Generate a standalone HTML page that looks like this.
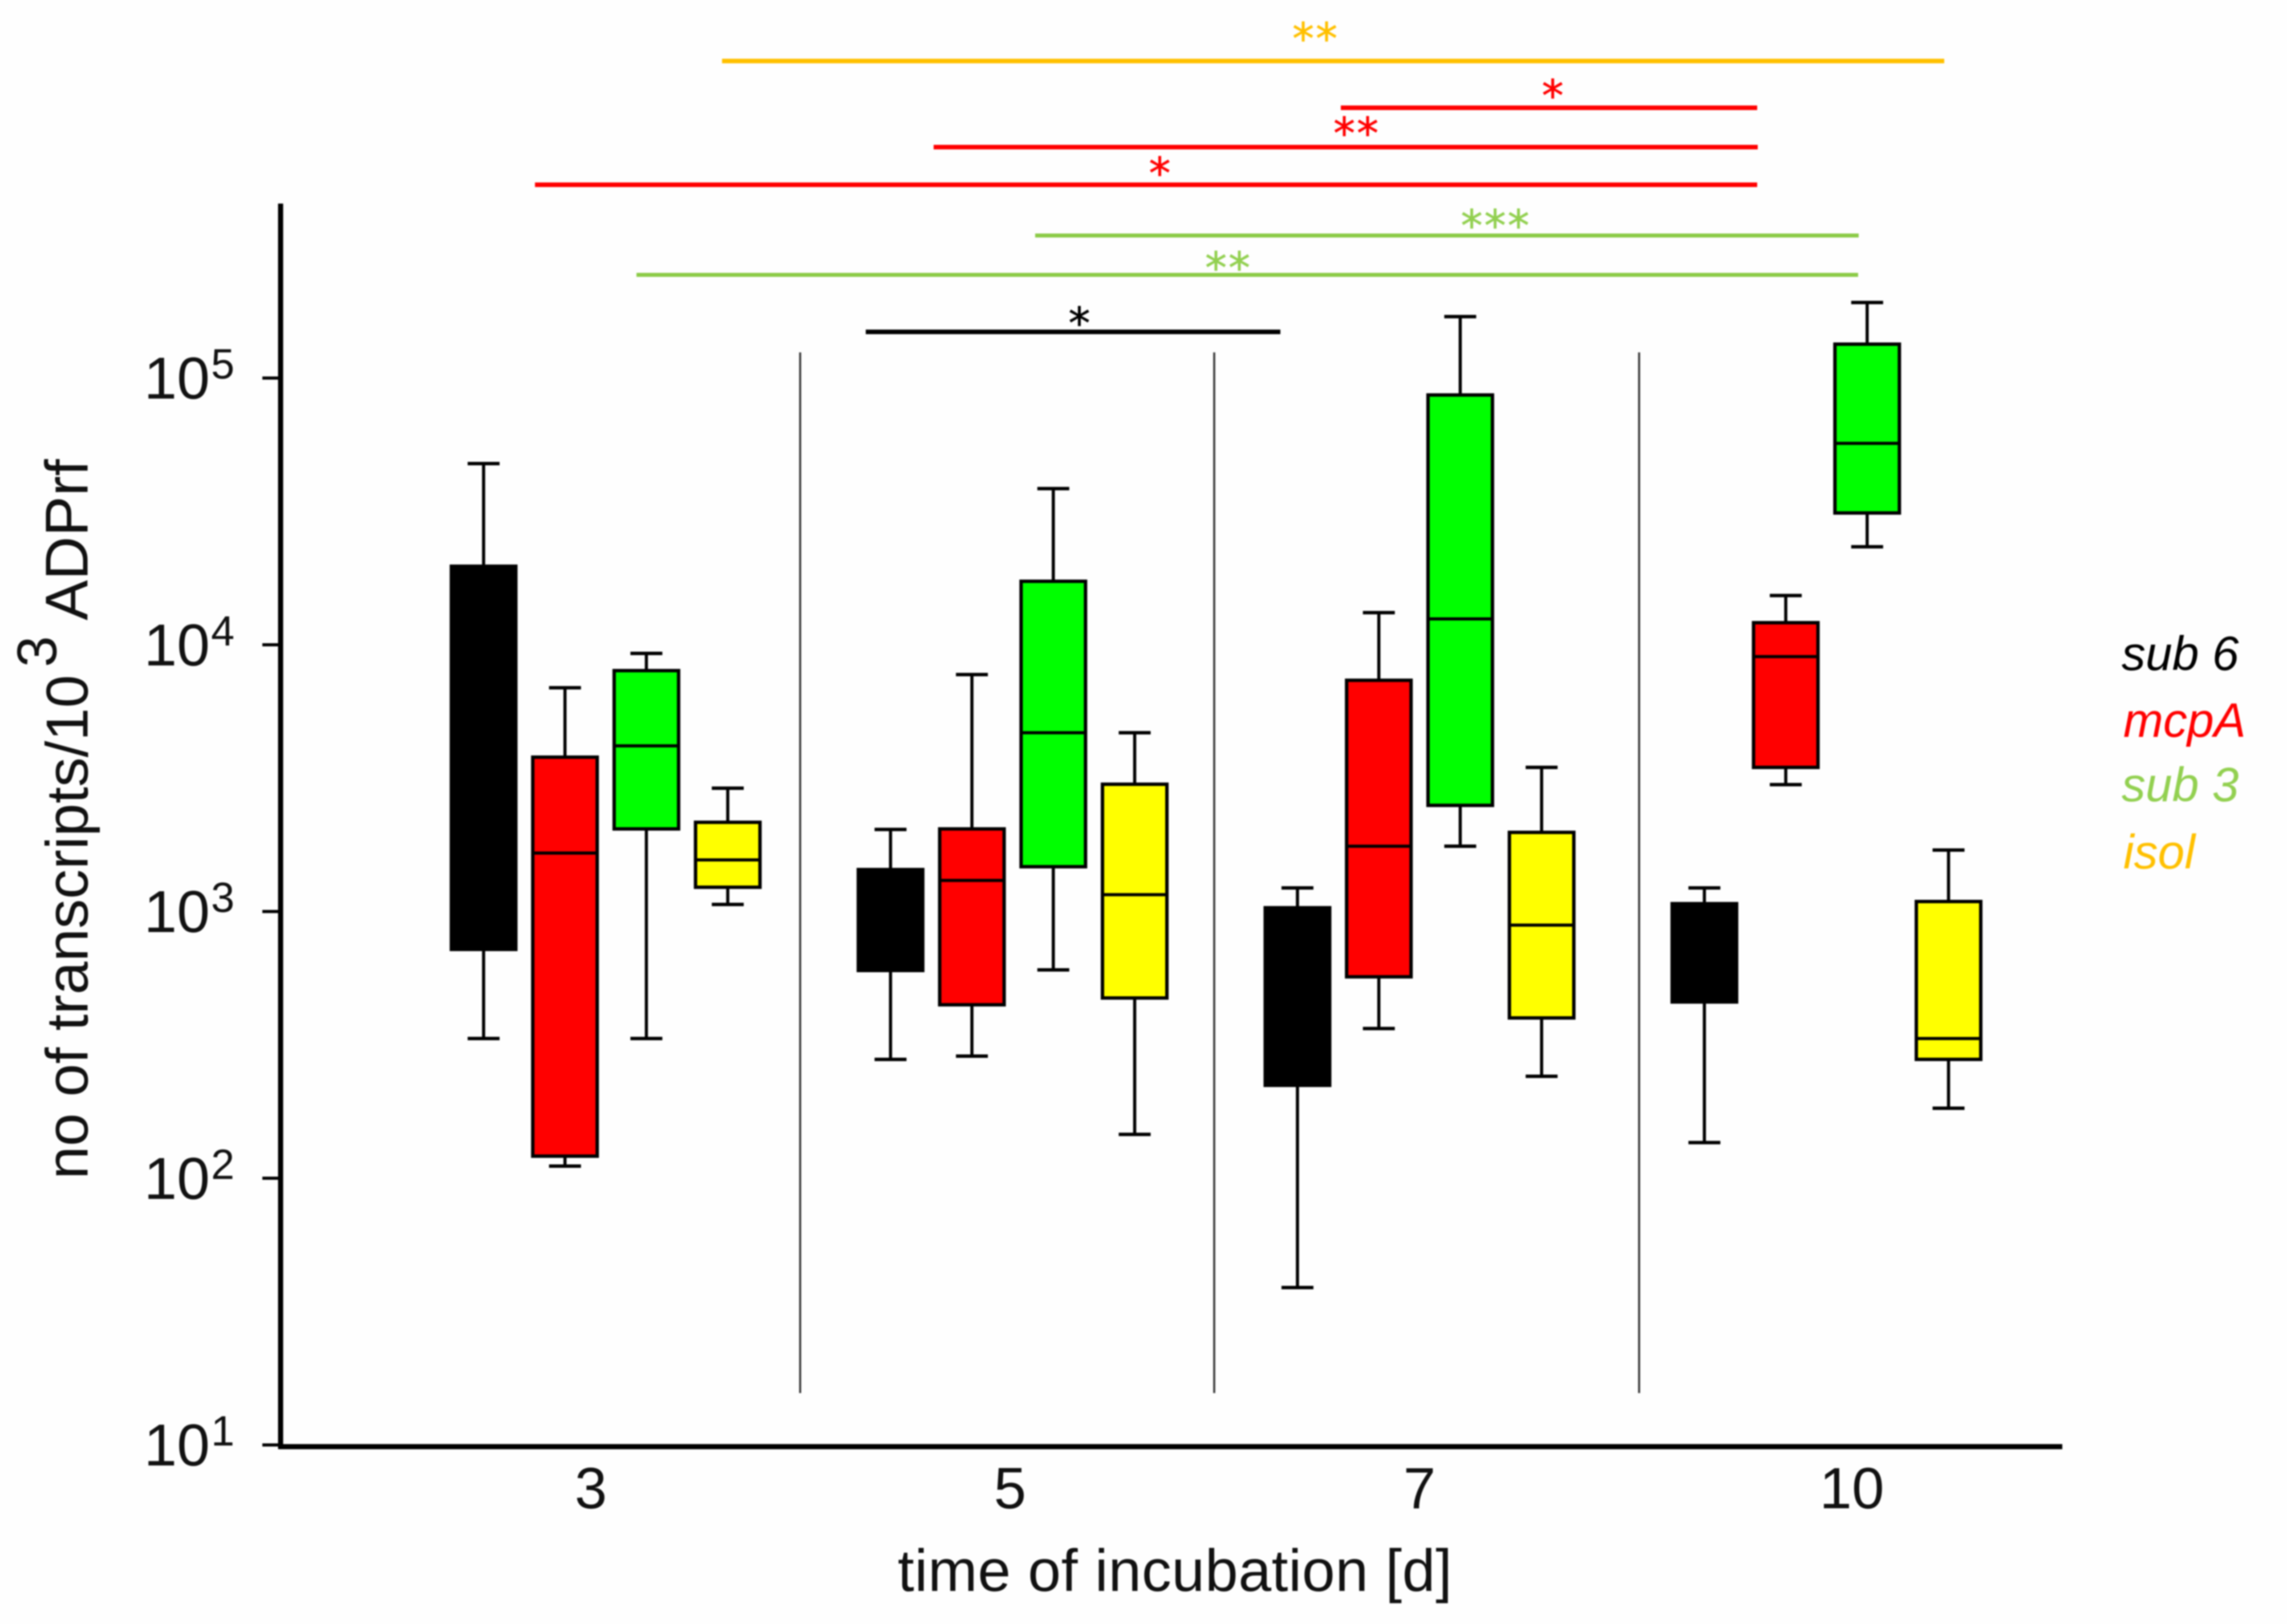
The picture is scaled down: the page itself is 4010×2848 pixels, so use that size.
<!DOCTYPE html>
<html lang="en">
<head>
<meta charset="utf-8">
<title>Transcripts over time of incubation</title>
<style>
html,body{margin:0;padding:0;background:#fff;width:4010px;height:2848px;overflow:hidden}
svg{display:block;font-family:"Liberation Sans",Arial,sans-serif;filter:blur(1.2px)}
.star{font-family:"DejaVu Sans",sans-serif;font-size:76px;letter-spacing:3px;text-anchor:middle;stroke-width:0.8px}
.leg{font-style:italic;font-size:84px}
.tick{font-size:102px;fill:#111}
</style>
</head>
<body>
<svg id="chart" xmlns="http://www.w3.org/2000/svg" width="4010" height="2848" viewBox="0 0 4010 2848">
  <rect width="4010" height="2848" fill="#fefefe"/>

  <g id="sig">
    <line x1="1266" x2="3409" y1="107" y2="107" stroke="#FFC000" stroke-width="8"/>
    <text class="star" x="2307" y="94" fill="#FFC000" stroke="#FFC000">**</text>
    <line x1="2351" x2="3081" y1="189" y2="189" stroke="#FF0000" stroke-width="8"/>
    <text class="star" x="2724" y="194" fill="#FF0000" stroke="#FF0000">*</text>
    <line x1="1637" x2="3082" y1="258" y2="258" stroke="#FF0000" stroke-width="8"/>
    <text class="star" x="2379" y="260" fill="#FF0000" stroke="#FF0000">**</text>
    <line x1="938" x2="3081" y1="324" y2="324" stroke="#FF0000" stroke-width="8"/>
    <text class="star" x="2035" y="330" fill="#FF0000" stroke="#FF0000">*</text>
    <line x1="1815" x2="3259" y1="413" y2="413" stroke="#8CCB48" stroke-width="7"/>
    <text class="star" x="2623" y="422" fill="#92D050" stroke="#92D050">***</text>
    <line x1="1116" x2="3258" y1="482" y2="482" stroke="#8CCB48" stroke-width="7"/>
    <text class="star" x="2154" y="496" fill="#92D050" stroke="#92D050">**</text>
    <line x1="1518" x2="2245" y1="582" y2="582" stroke="#000" stroke-width="8"/>
    <text class="star" x="1894" y="593" fill="#000" stroke="#000">*</text>
  </g>

  <g id="separators" stroke="#333" stroke-width="3.5">
    <line x1="1403" x2="1403" y1="618" y2="2443"/>
    <line x1="2129" x2="2129" y1="618" y2="2443"/>
    <line x1="2874" x2="2874" y1="618" y2="2443"/>
  </g>

  <g id="boxes"></g>

  <g id="axes">
    <line x1="492" x2="492" y1="357" y2="2541" stroke="#000" stroke-width="9"/>
    <line x1="488" x2="3616" y1="2537" y2="2537" stroke="#000" stroke-width="9"/>
    <g id="yticks"></g>
    <text class="tick" x="1036" y="2645" text-anchor="middle">3</text>
    <text class="tick" x="1771" y="2645" text-anchor="middle">5</text>
    <text class="tick" x="2489" y="2645" text-anchor="middle">7</text>
    <text class="tick" x="3247" y="2645" text-anchor="middle">10</text>
    <text x="1574" y="2790" font-size="104" textLength="972" fill="#111">time of incubation [d]</text>
    <g transform="translate(153.6 2062) rotate(-90)" fill="#111">
      <text x="-6" y="0" font-size="104">no of transcripts/10</text>
      <text x="892" y="-55" font-size="98">3</text>
      <text x="974" y="0" font-size="106">ADPrf</text>
    </g>
  </g>

  <g id="legend">
    <text class="leg" x="3720" y="1175" fill="#000">sub 6</text>
    <text class="leg" x="3723" y="1292" fill="#FF0000">mcpA</text>
    <text class="leg" x="3720" y="1405" fill="#92D050">sub 3</text>
    <text class="leg" x="3723" y="1523" fill="#FFC000">isol</text>
  </g>
</svg>
<script>
const categories = ['3', '5', '7', '10'];
const seriesNames = ['sub 6', 'mcpA', 'sub 3', 'isol'];
const seriesColors = ['#000000', '#FF0000', '#00FF00', '#FFFF00'];
const yTickExponents = [1, 2, 3, 4, 5];

const sub6Low = [334, 279, 38.9, 136];
const sub6Q1 = [721, 601, 223, 458];
const sub6Median = [4000, 900, 500, 700];
const sub6Q3 = [19700, 1436, 1033, 1070];
const sub6High = [47800, 2030, 1226, 1226];

const mcpALow = [111, 287, 364, 2990];
const mcpAQ1 = [121, 447, 569, 3470];
const mcpAMedian = [1656, 1308, 1757, 9030];
const mcpAQ3 = [3790, 2040, 7360, 12100];
const mcpAHigh = [6900, 7730, 13200, 15300];

const sub3Low = [334, 604, 1757, 23300];
const sub3Q1 = [2040, 1472, 2500, 31200];
const sub3Median = [4180, 4680, 12500, 56900];
const sub3Q3 = [8000, 17300, 86400, 134000];
const sub3High = [9280, 38500, 170000, 192000];

const isolLow = [1063, 146, 241, 183];
const isolQ1 = [1233, 474, 399, 279];
const isolMedian = [1561, 1156, 889, 334];
const isolQ3 = [2160, 3000, 1980, 1090];
const isolHigh = [2900, 4680, 3470, 1700];

const lowSeries = [sub6Low, mcpALow, sub3Low, isolLow];
const q1Series = [sub6Q1, mcpAQ1, sub3Q1, isolQ1];
const medianSeries = [sub6Median, mcpAMedian, sub3Median, isolMedian];
const q3Series = [sub6Q3, mcpAQ3, sub3Q3, isolQ3];
const highSeries = [sub6High, mcpAHigh, sub3High, isolHigh];

const SVG_NS = 'http://www.w3.org/2000/svg';
const BOX_WIDTH = 113;
const CAP_WIDTH = 56;

function yScale(value) {
  return 2534 - (Math.log10(value) - 1) * 467.75;
}
function xScale(groupIndex, seriesIndex) {
  return 1062 + 713.5 * (groupIndex + (seriesIndex - 1.5) * 0.2);
}
function mk(tag, attrs, parent) {
  const el = document.createElementNS(SVG_NS, tag);
  for (const k in attrs) el.setAttribute(k, attrs[k]);
  parent.appendChild(el);
  return el;
}

const boxesRoot = document.getElementById('boxes');
seriesNames.forEach(function (name, s) {
  const slug = name.replace(/\s+/g, '').toLowerCase();
  categories.forEach(function (cat, c) {
    const x = xScale(c, s);
    const g = mk('g', {}, boxesRoot);
    
    

    const yLow = yScale(lowSeries[s][c]);
    const yQ1 = yScale(q1Series[s][c]);
    const yMed = yScale(medianSeries[s][c]);
    const yQ3 = yScale(q3Series[s][c]);
    const yHigh = yScale(highSeries[s][c]);

    const stem = mk('line', {x1: x, x2: x, y1: yHigh, y2: yLow, stroke: '#000', 'stroke-width': 5.5}, g);
    
    

    const capTop = mk('line', {x1: x - CAP_WIDTH / 2, x2: x + CAP_WIDTH / 2, y1: yHigh, y2: yHigh, stroke: '#000', 'stroke-width': 6}, g);
    
    

    const capLow = mk('line', {x1: x - CAP_WIDTH / 2, x2: x + CAP_WIDTH / 2, y1: yLow, y2: yLow, stroke: '#000', 'stroke-width': 6}, g);
    
    

    const box = mk('rect', {x: x - BOX_WIDTH / 2, y: yQ3, width: BOX_WIDTH, height: yQ1 - yQ3, fill: seriesColors[s], stroke: '#000', 'stroke-width': 6}, g);
    
    

    const med = mk('line', {x1: x - BOX_WIDTH / 2, x2: x + BOX_WIDTH / 2, y1: yMed, y2: yMed, stroke: '#000', 'stroke-width': 5.5}, g);
    
    
  });
});

const yTicksRoot = document.getElementById('yticks');
yTickExponents.forEach(function (exp) {
  const y = yScale(Math.pow(10, exp));

  const tick = mk('line', {x1: 460, x2: 492, y1: y, y2: y, stroke: '#000', 'stroke-width': 5.5}, yTicksRoot);
  
  

  const base = mk('text', {x: 368, y: y + 36, 'text-anchor': 'end', 'font-size': 104, fill: '#111'}, yTicksRoot);
  base.textContent = '10';
  
  

  const sup = mk('text', {x: 370, y: y + 1, 'font-size': 74, fill: '#111'}, yTicksRoot);
  sup.textContent = String(exp);
  
  
});
</script>
</body>
</html>
